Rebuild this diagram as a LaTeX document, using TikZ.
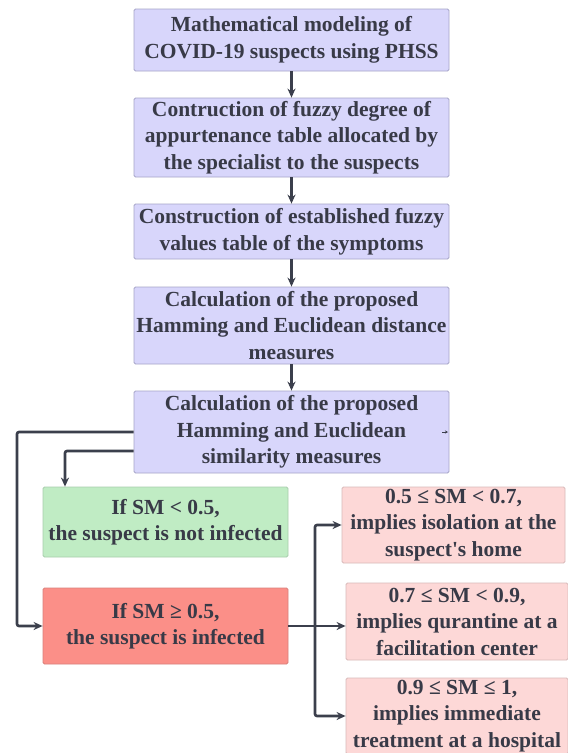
\documentclass[tikz,border=0pt]{standalone}
\usepackage{fontspec}
\setmainfont{Liberation Serif}[Ligatures=TeXOff]
\usetikzlibrary{arrows.meta,calc}
\definecolor{txt}{HTML}{383A47}
\definecolor{ln}{HTML}{3B3F4C}
\definecolor{lav}{HTML}{D8D6FB}
\definecolor{lavb}{HTML}{A6A5C8}
\definecolor{grn}{HTML}{C0ECC4}
\definecolor{grnb}{HTML}{A9CDAD}
\definecolor{rd}{HTML}{FB8F88}
\definecolor{rdb}{HTML}{D9807A}
\definecolor{pk}{HTML}{FDD8D7}
\definecolor{pkb}{HTML}{D9B9B9}
\tikzset{
  box/.style={draw=#1, line width=0.8pt, rounded corners=1.5pt, align=center,
    font=\fontsize{21.5}{26.5}\selectfont\bfseries, text=txt, inner sep=0pt},
  conn/.style={draw=ln, line width=2.6pt, -{Stealth[length=9pt,width=8pt]}},
}
\begin{document}
\begin{tikzpicture}[x=1pt,y=-1pt]
\clip (0,0) rectangle (568,753);
\fill[white] (0,0) rectangle (568,753);
\node[box=lavb, fill=lav, minimum width=315pt, minimum height=62pt] (b1) at (291.5,40) {Mathematical modeling of\\COVID-19 suspects using PHSS};
\node[box=lavb, fill=lav, minimum width=315pt, minimum height=79pt] (b2) at (291.5,137.5) {Contruction of fuzzy degree of\\appurtenance table allocated by\\the specialist to the suspects};
\node[box=lavb, fill=lav, minimum width=315pt, minimum height=55pt] (b3) at (291.5,231.5) {Construction of established fuzzy\\values table of the symptoms};
\node[box=lavb, fill=lav, minimum width=315pt, minimum height=77pt] (b4) at (291.5,325.5) {Calculation of the proposed\\Hamming and Euclidean distance\\measures};
\node[box=lavb, fill=lav, minimum width=315pt, minimum height=82pt] (b5) at (291.5,432) {Calculation of the proposed\\Hamming and Euclidean\\similarity measures};
\node[box=grnb, fill=grn, minimum width=245pt, minimum height=70pt] (g) at (165.5,522) {If SM < 0.5,\\the suspect is not infected};
\node[box=rdb, fill=rd, minimum width=245pt, minimum height=76pt] (r) at (165.5,626) {If SM ≥ 0.5,\\the suspect is infected};
\node[box=pkb, fill=pk, minimum width=223pt, minimum height=76pt] (p1) at (453.5,525) {0.5 ≤ SM < 0.7,\\implies isolation at the\\suspect's home};
\node[box=pkb, fill=pk, minimum width=222pt, minimum height=77pt] (p2) at (457,621.5) {0.7 ≤ SM < 0.9,\\implies qurantine at a\\facilitation center};
\node[box=pkb, fill=pk, minimum width=222pt, minimum height=76pt] (p3) at (457,716) {0.9 ≤ SM ≤ 1,\\implies immediate\\treatment at a hospital};
% vertical chain
\draw[conn] (b1.south) -- (b2.north);
\draw[conn] (b2.south) -- (b3.north);
\draw[conn] (b3.south) -- (b4.north);
\draw[conn] (b4.south) -- (b5.north);
% left loops
\coordinate (lA) at (17,432);
\coordinate (lB) at (65,451);
\draw[conn, rounded corners=2pt] (b5.west) -- (lA) |- (r.west);
\draw[conn, rounded corners=2pt] (b5.west |- lB) -- (lB) -- (lB |- g.north);
% tiny stub in b5
\coordinate (s1) at (442,432);
\coordinate (s2) at (448,432);
\draw[draw=ln, line width=1pt, -{Stealth[length=3pt,width=3pt]}] (s1) -- (s2);
% right branch
\coordinate (j) at (315,626);
\draw[conn] (r.east) -- (r.east -| p2.west);
\draw[conn, rounded corners=2pt] (j) |- (p1.west);
\draw[conn, rounded corners=2pt] (j) |- (p3.west);
\end{tikzpicture}
\end{document}
